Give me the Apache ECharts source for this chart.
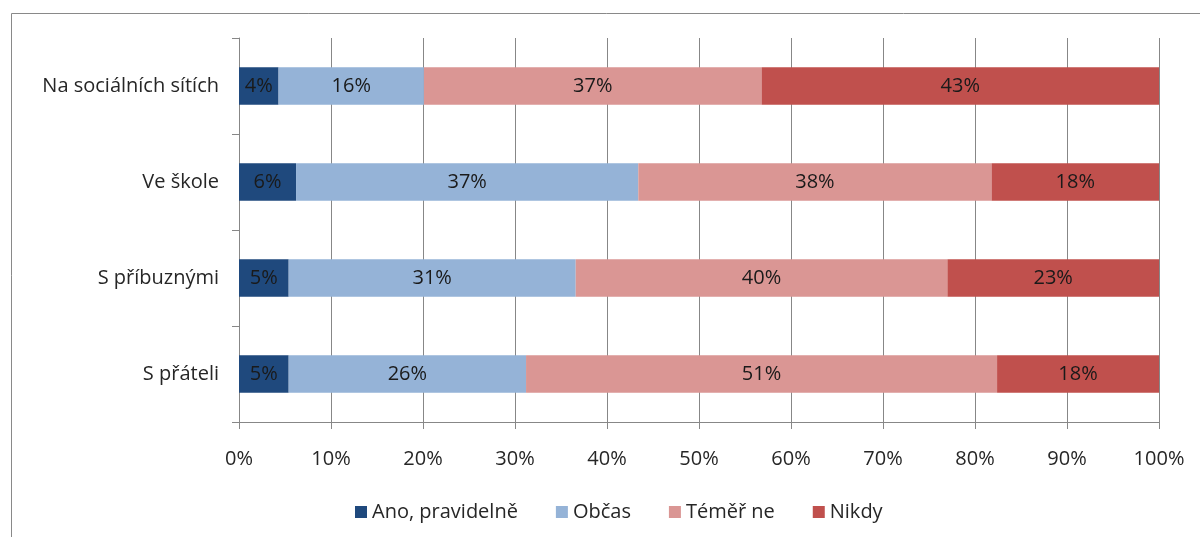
<!DOCTYPE html>
<html><head><meta charset="utf-8">
<script src="https://cdn.jsdelivr.net/npm/echarts@6/dist/echarts.min.js"></script>
<style>html,body{margin:0;padding:0;background:#fff}#c{width:1200px;height:537px}</style>
</head><body><div id="c"></div>
<script>
const categories = ['Na sociálních sítích', 'Ve škole', 'S příbuznými', 'S přáteli'];
const seriesNames = ['Ano, pravidelně', 'Občas', 'Téměř ne', 'Nikdy'];
const anoPravidelne = [4.3, 6.2, 5.4, 5.4];
const obcas = [15.8, 37.2, 31.2, 25.8];
const temerNe = [36.7, 38.4, 40.4, 51.2];
const nikdy = [43.2, 18.2, 23.0, 17.6];
const xTicks = [0, 10, 20, 30, 40, 50, 60, 70, 80, 90, 100];
const colors = ['#1F497D', '#95B3D7', '#DA9694', '#C0504D'];
const values = [anoPravidelne, obcas, temerNe, nikdy];
const FONT = 'Open Sans';
const FS = 20;
const chart = echarts.init(document.getElementById('c'));
chart.setOption({
  animation: false,
  textStyle: { fontFamily: FONT },
  graphic: [{ type: 'rect', shape: { x: 11.5, y: 13.5, width: 1300, height: 700 }, style: { fill: 'none', stroke: '#898989', lineWidth: 1 }, silent: true }],
  grid: { left: 239, right: 41, top: 38, bottom: 115, containLabel: false },
  legend: {
    top: 497, left: 350, itemWidth: 12, itemHeight: 12, itemGap: 38,
    icon: 'rect',
    textStyle: { fontSize: FS, color: '#262626', fontFamily: FONT },
    data: seriesNames
  },
  xAxis: {
    type: 'value', min: 0, max: 100, interval: 10,
    axisLine: { show: true, lineStyle: { color: '#878787' } },
    axisTick: { show: true, length: 7, lineStyle: { color: '#878787' } },
    axisLabel: { formatter: v => xTicks.includes(v) ? v + '%' : '', fontSize: FS, color: '#262626', margin: 27, fontFamily: FONT },
    splitLine: { show: true, lineStyle: { color: '#878787' } }
  },
  yAxis: {
    type: 'category', data: categories, inverse: true,
    axisLine: { show: true, lineStyle: { color: '#878787' } },
    axisTick: { show: true, length: 7, lineStyle: { color: '#878787' } },
    axisLabel: { fontSize: FS, color: '#262626', margin: 20, fontFamily: FONT }
  },
  series: seriesNames.map((n, i) => ({
    name: n, type: 'bar', stack: 'total', data: values[i], barWidth: '39%',
    itemStyle: { color: colors[i] },
    label: { show: true, position: 'inside', formatter: p => Math.round(p.value) + '%', color: '#1a1a1a', fontSize: FS, fontFamily: FONT }
  }))
});
</script></body></html>
